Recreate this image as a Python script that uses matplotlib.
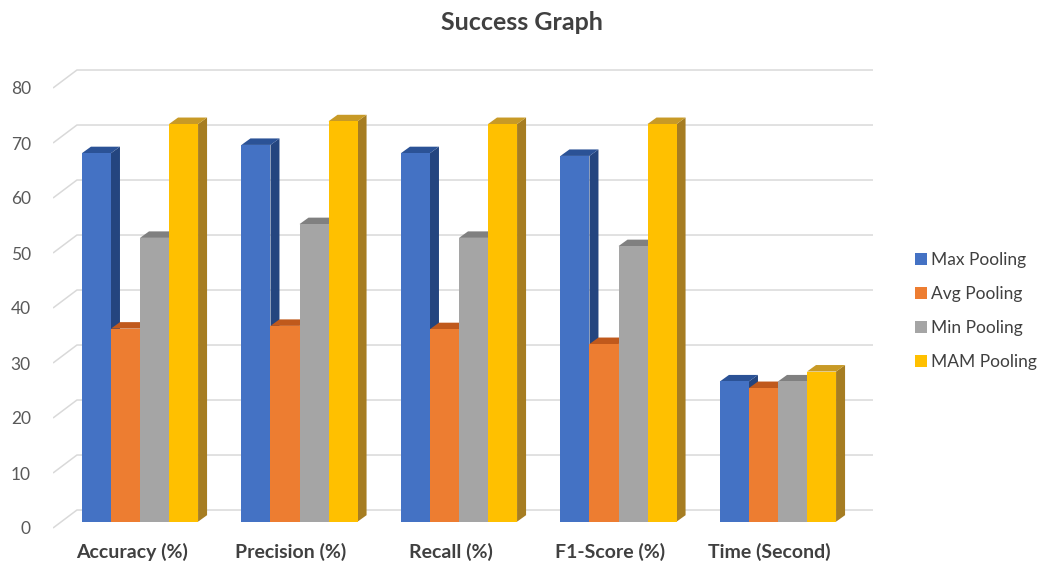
import matplotlib
matplotlib.use("Agg")
import matplotlib.pyplot as plt
from matplotlib.patches import Polygon, Patch
import numpy as np

categories = ['Accuracy (%)', 'Precision (%)', 'Recall (%)', 'F1-Score (%)', 'Time (Second)']
series_names = ['Max Pooling', 'Avg Pooling', 'Min Pooling', 'MAM Pooling']
max_pool = [67.0, 68.5, 67.0, 66.5, 25.5]
avg_pool = [35.1, 35.6, 35.0, 32.3, 24.3]
min_pool = [51.6, 54.1, 51.6, 50.1, 25.5]
mam_pool = [72.3, 72.8, 72.3, 72.3, 27.3]
series = [max_pool, avg_pool, min_pool, mam_pool]
yticks = [0, 10, 20, 30, 40, 50, 60, 70, 80]

front_cols = ['#4472C4', '#ED7D31', '#A5A5A5', '#FFC000']
side_cols = ['#24457F', '#A5501A', '#6E6E6E', '#A67D22']
top_cols = ['#2B5296', '#C0591C', '#808080', '#C89A26']

W, H = 1041, 565
fig = plt.figure(figsize=(W / 100, H / 100), dpi=100)
ax = fig.add_axes([53 / W, 30 / H, 820 / W, 475 / H])
xmin, xmax = -0.4928, 4.6483
ax.set_xlim(xmin, xmax)
ax.set_ylim(-7 / 5.5, 468 / 5.5)

# 3D geometry (in data units)
bw = 0.182            # bar width
ox, oy = 0.0527, 1.15  # bar front-face offset from front plane
dx, dy = 0.0564, 1.18  # bar depth
bx, by = 0.150, 3.27   # back wall offset

grid_col = '#D9D9D9'
for v in yticks:
    ax.plot([xmin, xmin + bx, xmax], [v, v + by, v + by], color=grid_col,
            lw=1.1, zorder=1, solid_capstyle='butt')

z = 2
x_idx = np.arange(len(categories))
for i in x_idx:
    for k, vals in enumerate(series):
        left = i + ox - 2 * bw + k * bw
        h = vals[i]
        bars = ax.bar(left, h, width=bw, bottom=oy, align='edge',
                      color=front_cols[k], zorder=z + 1, linewidth=0)
        b = bars[0]
        x0, x1 = b.get_x(), b.get_x() + b.get_width()
        y0, y1 = b.get_y(), b.get_y() + b.get_height()
        side = Polygon([(x1, y0), (x1 + dx, y0 + dy), (x1 + dx, y1 + dy), (x1, y1)],
                       closed=True, facecolor=side_cols[k], edgecolor='none', zorder=z)
        top = Polygon([(x0, y1), (x0 + dx, y1 + dy), (x1 + dx, y1 + dy), (x1, y1)],
                      closed=True, facecolor=top_cols[k], edgecolor='none', zorder=z)
        ax.add_patch(side)
        ax.add_patch(top)
        z += 2

for s in ax.spines.values():
    s.set_visible(False)
ax.set_yticks(yticks)
ax.set_yticklabels([str(t) for t in yticks], fontsize=12.5, color='#595959', family='Lato')
ax.set_xticks(x_idx)
ax.set_xticklabels(categories, fontsize=14, fontweight='bold', color='#404040', family='Lato')
ax.tick_params(axis='y', length=0, pad=16)
ax.tick_params(axis='x', length=0, pad=6)

fig.text(522 / W, 1 - 23 / H, 'Success Graph', ha='center', va='center',
         fontsize=18, fontweight='bold', color='#404040', family='Lato')

handles = [Patch(facecolor=c, edgecolor='none') for c in front_cols]
fig.legend(handles, series_names, loc='center left', bbox_to_anchor=(915 / W, 1 - 311 / H),
           frameon=False, handlelength=0.7, handleheight=0.7, borderpad=0, borderaxespad=0,
           handletextpad=0.25, labelspacing=1.05, prop={'family': 'Lato', 'size': 12.5},
           labelcolor='#404040')

fig.savefig('out.png', dpi=100, facecolor='white')
